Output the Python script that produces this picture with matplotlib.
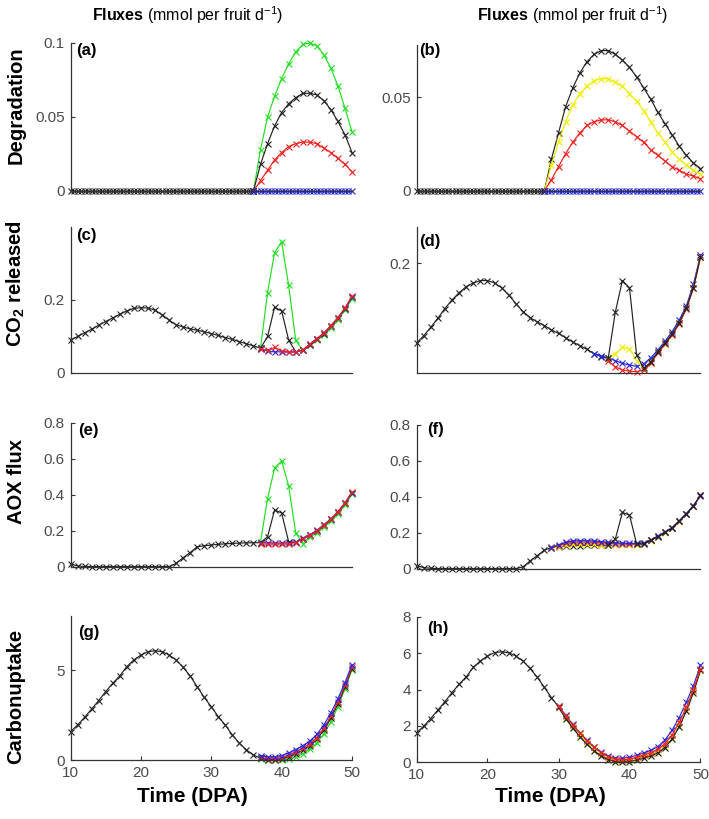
import numpy as np
import matplotlib
matplotlib.use("Agg")
import matplotlib.pyplot as plt

plt.rcParams['font.family'] = ['Liberation Sans', 'DejaVu Sans']
plt.rcParams['mathtext.fontset'] = 'custom'
plt.rcParams['mathtext.rm'] = 'Liberation Sans'
plt.rcParams['mathtext.bf'] = 'Liberation Sans:bold'
plt.rcParams['mathtext.it'] = 'Liberation Sans:italic'

# ---- data ----
late37 = np.arange(37, 51)        # 37..50
early37 = np.arange(10, 38)       # 10..37

# (a) degradation, left model
deg_a_flat_t = np.arange(10, 36.5, 0.5)
deg_a_flat = np.zeros(len(deg_a_flat_t))
deg_a_t = np.arange(36, 51)
deg_a_green = [0.0, 0.028, 0.050, 0.064, 0.076, 0.086, 0.094, 0.099, 0.100, 0.098, 0.092, 0.083, 0.071, 0.056, 0.040]
deg_a_black = [0.0, 0.018, 0.032, 0.044, 0.053, 0.059, 0.063, 0.066, 0.066, 0.065, 0.061, 0.055, 0.047, 0.038, 0.026]
deg_a_red = [0.0, 0.007, 0.014, 0.021, 0.026, 0.030, 0.032, 0.033, 0.033, 0.032, 0.029, 0.026, 0.022, 0.018, 0.013]
deg_a_blue_t = np.arange(36, 50.5, 0.5)
deg_a_blue = np.zeros(len(deg_a_blue_t))

# (b) degradation, right model
deg_b_flat_t = np.arange(10, 28.5, 0.5)
deg_b_flat = np.zeros(len(deg_b_flat_t))
deg_b_t = np.arange(28, 51)
deg_b_black = [0.0, 0.017, 0.031, 0.045, 0.055, 0.063, 0.069, 0.073, 0.075, 0.075, 0.073, 0.070, 0.066,
               0.061, 0.055, 0.049, 0.042, 0.036, 0.030, 0.024, 0.019, 0.015, 0.012]
deg_b_yellow = [0.0, 0.014, 0.026, 0.037, 0.046, 0.052, 0.056, 0.059, 0.060, 0.060, 0.058, 0.056, 0.052,
                0.048, 0.043, 0.037, 0.031, 0.026, 0.021, 0.017, 0.014, 0.011, 0.009]
deg_b_red = [0.0, 0.006, 0.013, 0.020, 0.026, 0.031, 0.035, 0.037, 0.038, 0.038, 0.037, 0.035, 0.032,
             0.029, 0.026, 0.022, 0.019, 0.016, 0.013, 0.011, 0.009, 0.008, 0.0065]
deg_b_blue_t = np.arange(28, 50.5, 0.5)
deg_b_blue = np.zeros(len(deg_b_blue_t))

# (c) CO2 released, left
co2_c_early = [0.090, 0.100, 0.110, 0.120, 0.131, 0.141, 0.151, 0.161, 0.170, 0.177, 0.179, 0.178, 0.172, 0.160,
               0.145, 0.132, 0.126, 0.121, 0.117, 0.113, 0.108, 0.103, 0.097, 0.092, 0.086, 0.080, 0.074, 0.068]
co2_c_green = [0.068, 0.22, 0.33, 0.36, 0.24, 0.09, 0.062, 0.076, 0.090, 0.105, 0.124, 0.146, 0.172, 0.204]
co2_c_black = [0.068, 0.10, 0.18, 0.17, 0.09, 0.058, 0.062, 0.078, 0.093, 0.108, 0.128, 0.150, 0.176, 0.208]
co2_c_red = [0.065, 0.062, 0.070, 0.060, 0.058, 0.057, 0.063, 0.079, 0.094, 0.110, 0.130, 0.152, 0.178, 0.210]
co2_c_blue = [0.066, 0.060, 0.058, 0.058, 0.057, 0.058, 0.063, 0.079, 0.094, 0.109, 0.129, 0.151, 0.177, 0.209]

# (d) CO2 released, right
co2_d_early = [0.069, 0.081, 0.095, 0.110, 0.126, 0.140, 0.152, 0.162, 0.168, 0.172, 0.172, 0.168, 0.160, 0.148,
               0.134, 0.121, 0.111, 0.104, 0.098, 0.091, 0.085, 0.078, 0.071, 0.065, 0.059, 0.052, 0.047, 0.044]
co2_d_black = [0.044, 0.120, 0.172, 0.160, 0.050, 0.028, 0.038, 0.055, 0.069, 0.084, 0.103, 0.127, 0.160, 0.211]
co2_d_yellow = [0.044, 0.052, 0.062, 0.060, 0.040, 0.027, 0.037, 0.054, 0.068, 0.083, 0.102, 0.126, 0.160, 0.211]
co2_d_red = [0.040, 0.030, 0.025, 0.023, 0.022, 0.025, 0.036, 0.053, 0.067, 0.082, 0.101, 0.125, 0.159, 0.210]
co2_d_blue_t = np.arange(35, 51)
co2_d_blue = [0.052, 0.048, 0.045, 0.040, 0.036, 0.033, 0.031, 0.035, 0.045, 0.058, 0.072, 0.088, 0.107, 0.130, 0.166, 0.214]

# (e) AOX flux, left
aox_e_early = [0.018, 0.006, 0.003, 0.002, 0.002, 0.002, 0.002, 0.002, 0.002, 0.002, 0.002, 0.002, 0.002, 0.002,
               0.002, 0.020, 0.052, 0.080, 0.113, 0.118, 0.122, 0.126, 0.129, 0.131, 0.133, 0.134, 0.135, 0.135]
aox_e_green = [0.14, 0.38, 0.55, 0.59, 0.45, 0.19, 0.13, 0.168, 0.19, 0.225, 0.255, 0.295, 0.345, 0.405]
aox_e_black = [0.135, 0.168, 0.317, 0.30, 0.14, 0.137, 0.158, 0.177, 0.200, 0.232, 0.264, 0.304, 0.354, 0.412]
aox_e_red = [0.128, 0.127, 0.127, 0.127, 0.128, 0.136, 0.158, 0.178, 0.201, 0.233, 0.266, 0.306, 0.356, 0.417]
aox_e_blue = [0.135, 0.134, 0.133, 0.133, 0.134, 0.138, 0.160, 0.180, 0.203, 0.235, 0.267, 0.307, 0.356, 0.413]

# (f) AOX flux, right
aox_f_early = [0.018, 0.008, 0.004, 0.002, 0.002, 0.002, 0.002, 0.002, 0.002, 0.002, 0.002, 0.002, 0.002, 0.002,
               0.002, 0.012, 0.045, 0.074, 0.105, 0.120, 0.124, 0.127, 0.129, 0.130, 0.131, 0.131, 0.131, 0.132]
aox_f_black = [0.132, 0.166, 0.314, 0.300, 0.140, 0.138, 0.160, 0.180, 0.203, 0.227, 0.265, 0.305, 0.350, 0.410]
aox_f_t = np.arange(29, 51)
aox_f_blue = [0.118, 0.135, 0.148, 0.155, 0.157, 0.157, 0.155, 0.152, 0.148, 0.145, 0.143, 0.142, 0.142, 0.145,
              0.162, 0.183, 0.206, 0.230, 0.268, 0.308, 0.352, 0.408]
aox_f_red = [0.116, 0.130, 0.142, 0.148, 0.150, 0.150, 0.148, 0.145, 0.142, 0.140, 0.138, 0.137, 0.137, 0.142,
             0.161, 0.182, 0.205, 0.229, 0.267, 0.307, 0.351, 0.409]
aox_f_yellow = [0.114, 0.122, 0.132, 0.138, 0.140, 0.140, 0.138, 0.136, 0.134, 0.133, 0.133, 0.133, 0.133, 0.138,
                0.158, 0.179, 0.202, 0.226, 0.263, 0.303, 0.348, 0.412]

# (g) carbon uptake, left
cu_g_early = [1.57, 1.94, 2.37, 2.83, 3.30, 3.80, 4.26, 4.67, 5.19, 5.56, 5.83, 6.02, 6.07, 6.02,
              5.83, 5.56, 5.15, 4.67, 4.07, 3.48, 2.96, 2.41, 1.94, 1.39, 0.93, 0.56, 0.28, 0.09]
cu_g_blue = [0.25, 0.18, 0.18, 0.25, 0.40, 0.58, 0.80, 1.05, 1.42, 1.95, 2.62, 3.40, 4.30, 5.30]
cu_g_red = [0.15, 0.08, 0.07, 0.12, 0.26, 0.44, 0.66, 0.90, 1.25, 1.76, 2.43, 3.22, 4.15, 5.15]
cu_g_black = [0.09, 0.02, 0.02, 0.06, 0.17, 0.34, 0.55, 0.80, 1.15, 1.65, 2.32, 3.12, 4.05, 5.08]
cu_g_green = [0.05, 0.0, 0.0, 0.0, 0.04, 0.15, 0.35, 0.60, 0.95, 1.45, 2.12, 2.95, 3.95, 5.02]

# (h) carbon uptake, right
cu_h_early_t = np.arange(10, 31)
cu_h_early = [1.61, 1.97, 2.40, 2.86, 3.33, 3.83, 4.29, 4.70, 5.22, 5.58, 5.85, 6.04, 6.08, 6.03,
              5.84, 5.57, 5.16, 4.68, 4.12, 3.55, 3.05]
cu_h_t = np.arange(30, 51)
cu_h_red = [3.09, 2.55, 2.05, 1.60, 1.18, 0.82, 0.52, 0.30, 0.16, 0.12, 0.16, 0.26, 0.38, 0.52,
            0.70, 1.02, 1.50, 2.18, 3.02, 3.98, 5.15]
cu_h_blue = [3.11, 2.57, 2.07, 1.62, 1.20, 0.84, 0.54, 0.33, 0.22, 0.20, 0.26, 0.36, 0.50, 0.65,
             0.85, 1.22, 1.75, 2.45, 3.30, 4.20, 5.36]
cu_h_yellow = [3.05, 2.45, 1.95, 1.48, 1.05, 0.68, 0.38, 0.18, 0.06, 0.03, 0.06, 0.14, 0.25, 0.38,
               0.55, 0.85, 1.32, 2.00, 2.85, 3.85, 5.08]
cu_h_black = [3.02, 2.40, 1.88, 1.40, 0.98, 0.62, 0.33, 0.13, 0.02, 0.0, 0.02, 0.10, 0.20, 0.33,
              0.50, 0.80, 1.26, 1.95, 2.80, 3.82, 5.05]

C_GREEN = '#22dd22'
C_BLACK = '#222222'
C_RED = '#ee2020'
C_BLUE = '#2626dd'
C_YELLOW = '#eeee00'

W, H = 709, 819
fig = plt.figure(figsize=(W / 100, H / 100), dpi=100)


def box(x0, x1, ytop, ybot):
    return [x0 / W, 1 - ybot / H, (x1 - x0) / W, (ybot - ytop) / H]


def line(ax, t, y, c):
    ax.plot(t, y, '-', color=c, lw=0.85, marker='x', ms=4.5, mew=0.8, clip_on=False)


def style(ax, ylim, yticks, yticklabels, bottom=False):
    ax.set_xlim(10, 50)
    ax.set_ylim(*ylim)
    for s in ['top', 'right']:
        ax.spines[s].set_visible(False)
    for s in ['left', 'bottom']:
        ax.spines[s].set_color('#333333')
        ax.spines[s].set_linewidth(0.9)
    ax.set_yticks(yticks)
    ax.set_yticklabels(yticklabels)
    ax.set_xticks([10, 20, 30, 40, 50])
    ax.tick_params(axis='y', direction='in', length=3, color='#333333', labelsize=11,
                   labelcolor='#4a4a4a', pad=4)
    if bottom:
        ax.tick_params(axis='x', direction='in', length=3, color='#333333', labelsize=11,
                       labelcolor='#4a4a4a', pad=4)
    else:
        ax.tick_params(axis='x', length=0, labelbottom=False)


def panel_label(ax, txt, dx, dy):
    ax.annotate(txt, xy=(0, 1), xycoords='axes fraction', xytext=(dx, dy),
                textcoords='offset pixels', ha='left', va='center',
                fontsize=12, fontweight='bold')


# (a)
ax = fig.add_axes(box(70.5, 352, 43, 191))
line(ax, deg_a_t, deg_a_green, C_GREEN)
line(ax, deg_a_t, deg_a_black, C_BLACK)
line(ax, deg_a_t, deg_a_red, C_RED)
line(ax, deg_a_flat_t, deg_a_flat, C_BLACK)
line(ax, deg_a_blue_t, deg_a_blue, C_BLUE)
style(ax, (0, 0.1), [0, 0.05, 0.1], ['0', '0.05', '0.1'])
panel_label(ax, '(a)', 6, -7)

# (b)
ax = fig.add_axes(box(416.5, 700.5, 45, 191))
line(ax, deg_b_t, deg_b_black, C_BLACK)
line(ax, deg_b_t, deg_b_yellow, C_YELLOW)
line(ax, deg_b_t, deg_b_red, C_RED)
line(ax, deg_b_flat_t, deg_b_flat, C_BLACK)
line(ax, deg_b_blue_t, deg_b_blue, C_BLUE)
style(ax, (0, 0.078), [0, 0.05], ['0', '0.05'])
panel_label(ax, '(b)', 3, -6)

# (c)
ax = fig.add_axes(box(70.5, 352, 227, 373))
line(ax, early37, co2_c_early, C_BLACK)
line(ax, late37, co2_c_green, C_GREEN)
line(ax, late37, co2_c_black, C_BLACK)
line(ax, late37, co2_c_blue, C_BLUE)
line(ax, late37, co2_c_red, C_RED)
style(ax, (0, 0.4), [0, 0.2], ['0', '0.2'])
panel_label(ax, '(c)', 6, -9)

# (d)
ax = fig.add_axes(box(416.5, 700.5, 227, 373))
line(ax, early37, co2_d_early, C_BLACK)
line(ax, co2_d_blue_t, co2_d_blue, C_BLUE)
line(ax, late37, co2_d_yellow, C_YELLOW)
line(ax, late37, co2_d_red, C_RED)
line(ax, late37, co2_d_black, C_BLACK)
style(ax, (0.02, 0.26), [0.2], ['0.2'])
panel_label(ax, '(d)', 3, -15)

# (e)
ax = fig.add_axes(box(70.5, 352, 423, 567))
line(ax, early37, aox_e_early, C_BLACK)
line(ax, late37, aox_e_green, C_GREEN)
line(ax, late37, aox_e_black, C_BLACK)
line(ax, late37, aox_e_blue, C_BLUE)
line(ax, late37, aox_e_red, C_RED)
style(ax, (0, 0.8), [0, 0.2, 0.4, 0.6, 0.8], ['0', '0.2', '0.4', '0.6', '0.8'])
panel_label(ax, '(e)', 8, -8)

# (f)
ax = fig.add_axes(box(416.5, 700.5, 425, 569))
line(ax, early37, aox_f_early, C_BLACK)
line(ax, aox_f_t, aox_f_yellow, C_YELLOW)
line(ax, aox_f_t, aox_f_red, C_RED)
line(ax, aox_f_t, aox_f_blue, C_BLUE)
line(ax, late37, aox_f_black, C_BLACK)
style(ax, (0, 0.8), [0, 0.2, 0.4, 0.6, 0.8], ['0', '0.2', '0.4', '0.6', '0.8'])
panel_label(ax, '(f)', 11, -5)

# (g)
ax = fig.add_axes(box(70.5, 352, 616, 760))
line(ax, early37, cu_g_early, C_BLACK)
line(ax, late37, cu_g_green, C_GREEN)
line(ax, late37, cu_g_black, C_BLACK)
line(ax, late37, cu_g_red, C_RED)
line(ax, late37, cu_g_blue, C_BLUE)
style(ax, (0, 8), [0, 5], ['0', '5'], bottom=True)
panel_label(ax, '(g)', 8, -17)

# (h)
ax = fig.add_axes(box(416.5, 700.5, 617, 762))
line(ax, cu_h_early_t, cu_h_early, C_BLACK)
line(ax, cu_h_t, cu_h_blue, C_BLUE)
line(ax, cu_h_t, cu_h_yellow, C_YELLOW)
line(ax, cu_h_t, cu_h_black, C_BLACK)
line(ax, cu_h_t, cu_h_red, C_RED)
style(ax, (0, 8), [0, 2, 4, 6, 8], ['0', '2', '4', '6', '8'], bottom=True)
panel_label(ax, '(h)', 11, -12)

# headers and row labels
hdr = r'$\mathbf{Fluxes}$ (mmol per fruit d$^{-1}$)'
fig.text(188 / W, 1 - 15 / H, hdr, ha='center', va='center', fontsize=11.5)
fig.text(573 / W, 1 - 15 / H, hdr, ha='center', va='center', fontsize=11.5)

row_labels = ['Degradation', r'CO$_\mathbf{2}$ released', 'AOX flux', 'Carbonuptake']
row_y = [105, 284, 481, 696]
for lab, yy in zip(row_labels, row_y):
    fig.text(16 / W, 1 - yy / H, lab, rotation=90, ha='center', va='center',
             fontsize=14.5, fontweight='bold')

fig.text(192 / W, 1 - 797 / H, 'Time (DPA)', ha='center', va='center', fontsize=15, fontweight='bold')
fig.text(550 / W, 1 - 797 / H, 'Time (DPA)', ha='center', va='center', fontsize=15, fontweight='bold')

fig.savefig('out.png', dpi=100)
